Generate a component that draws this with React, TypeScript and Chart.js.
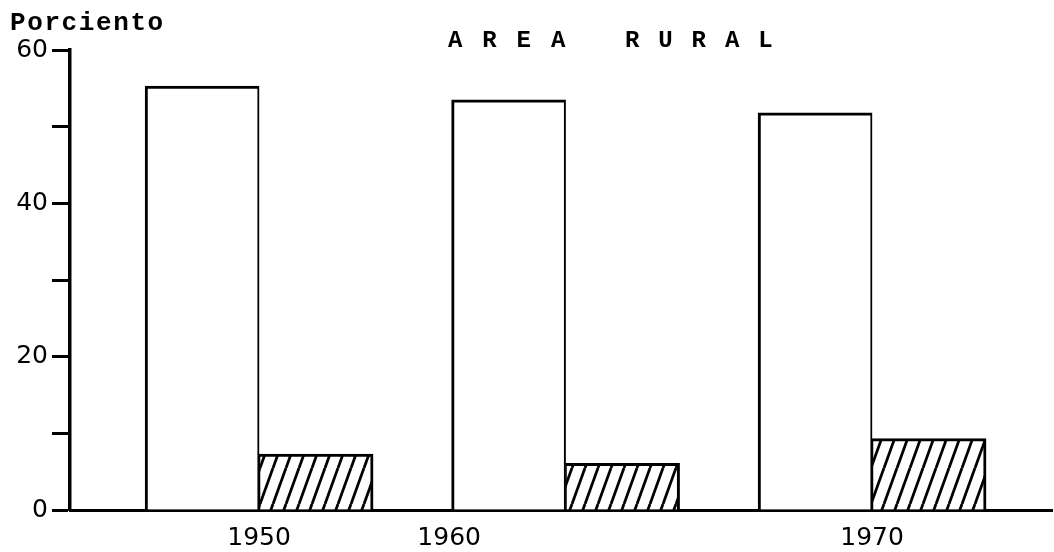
import { useEffect, useRef } from 'react';
import { Chart, registerables } from 'chart.js';

Chart.register(...registerables);

// ---- data ----
const years = [1950, 1960, 1970];
const yearLabels = ['1950', '1960', '1970'];
// where each year label sits along the axis in the picture (the 1960 label is drawn under the left edge of its bar)
const labelYears = [1950, 1956.2, 1970];
const whiteValues = [55.3, 53.5, 51.8];
const hatchedValues = [7.3, 6.1, 9.3];
const yLabelEvery = 20;
const yStep = 10;
const yMin = 0;
const yMax = 60;
const unitLabel = 'Porciento';
const titleWords = ['AREA', 'RURAL'];

function makeHatch(): CanvasPattern | string {
  const w = 13;
  const h = 36;
  const c = document.createElement('canvas');
  c.width = w;
  c.height = h;
  const g = c.getContext('2d');
  if (!g) return '#fff';
  g.fillStyle = '#fff';
  g.fillRect(0, 0, w, h);
  g.strokeStyle = '#000';
  g.lineWidth = 2.8;
  for (let k = -1; k <= 1; k++) {
    g.beginPath();
    g.moveTo(k * w, h);
    g.lineTo(k * w + w, 0);
    g.stroke();
  }
  return g.createPattern(c, 'repeat') || '#fff';
}

function drawSpaced(ctx: CanvasRenderingContext2D, text: string, x: number, y: number, pitch: number) {
  for (let i = 0; i < text.length; i++) {
    ctx.fillText(text[i], x + i * pitch, y);
  }
}

const typedTextPlugin = {
  id: 'typedText',
  afterDraw(chart: any) {
    const ctx: CanvasRenderingContext2D = chart.ctx;
    ctx.save();
    ctx.fillStyle = '#000';
    ctx.textAlign = 'left';
    ctx.textBaseline = 'alphabetic';
    ctx.font = 'bold 26px "Liberation Mono"';
    drawSpaced(ctx, unitLabel, 10, 30, 17.2);
    ctx.font = 'bold 24px "Liberation Mono"';
    drawSpaced(ctx, titleWords[0], 448, 47, 34.3);
    drawSpaced(ctx, titleWords[1], 625, 47, 33.3);
    ctx.restore();
  },
};

export default function App() {
  const ref = useRef<HTMLCanvasElement | null>(null);

  useEffect(() => {
    if (!ref.current) return;
    const hatch = makeHatch();
    const numFont = { family: '"DejaVu Sans", sans-serif', size: 25 };
    const chart = new Chart(ref.current, {
      type: 'bar',
      data: {
        datasets: [
          {
            label: 'blanco',
            data: years.map((yr, i) => ({ x: yr, y: whiteValues[i] })),
            backgroundColor: '#ffffff',
            borderColor: '#000000',
            borderWidth: { top: 3, left: 3, right: 2, bottom: 0 },
            borderSkipped: false,
            barThickness: 114,
          },
          {
            label: 'rayado',
            data: years.map((yr, i) => ({ x: yr, y: hatchedValues[i] })),
            backgroundColor: hatch as any,
            borderColor: '#000000',
            borderWidth: { top: 3, left: 1.5, right: 3, bottom: 0 },
            borderSkipped: false,
            barThickness: 114,
          },
        ],
      } as any,
      options: {
        animation: false,
        responsive: true,
        maintainAspectRatio: false,
        layout: { padding: { top: 50, right: 2, left: 0, bottom: 0 } },
        plugins: {
          legend: { display: false },
          tooltip: { enabled: false },
          title: { display: false },
        },
        scales: {
          x: {
            type: 'linear',
            min: 1943.83,
            max: 1975.87,
            offset: false,
            grid: { display: true, drawOnChartArea: false, drawTicks: false },
            border: { display: true, color: '#000', width: 3 },
            afterBuildTicks: (scale: any) => {
              scale.ticks = labelYears.map((v) => ({ value: v }));
            },
            afterFit: (scale: any) => {
              scale.height = 42;
            },
            ticks: {
              callback: (_v: any, i: number) => yearLabels[i],
              font: numFont,
              color: '#000',
              padding: 13,
              maxRotation: 0,
              autoSkip: false,
            },
          },
          y: {
            min: yMin,
            max: yMax,
            afterFit: (scale: any) => {
              scale.width = 70;
            },
            ticks: {
              stepSize: yStep,
              callback: (v: any) => (Number(v) % yLabelEvery === 0 ? String(v) : ''),
              font: numFont,
              color: '#000',
              padding: 4,
            },
            grid: {
              drawOnChartArea: false,
              drawTicks: true,
              tickLength: 18,
              tickColor: '#000',
              tickWidth: 3,
            },
            border: { display: true, color: '#000', width: 3.5 },
          },
        },
      } as any,
      plugins: [typedTextPlugin],
    });
    return () => chart.destroy();
  }, []);

  return (
    <div style={{ position: 'absolute', left: 0, top: 0, width: 1054, height: 552, background: '#fff' }}>
      <canvas ref={ref} />
    </div>
  );
}
